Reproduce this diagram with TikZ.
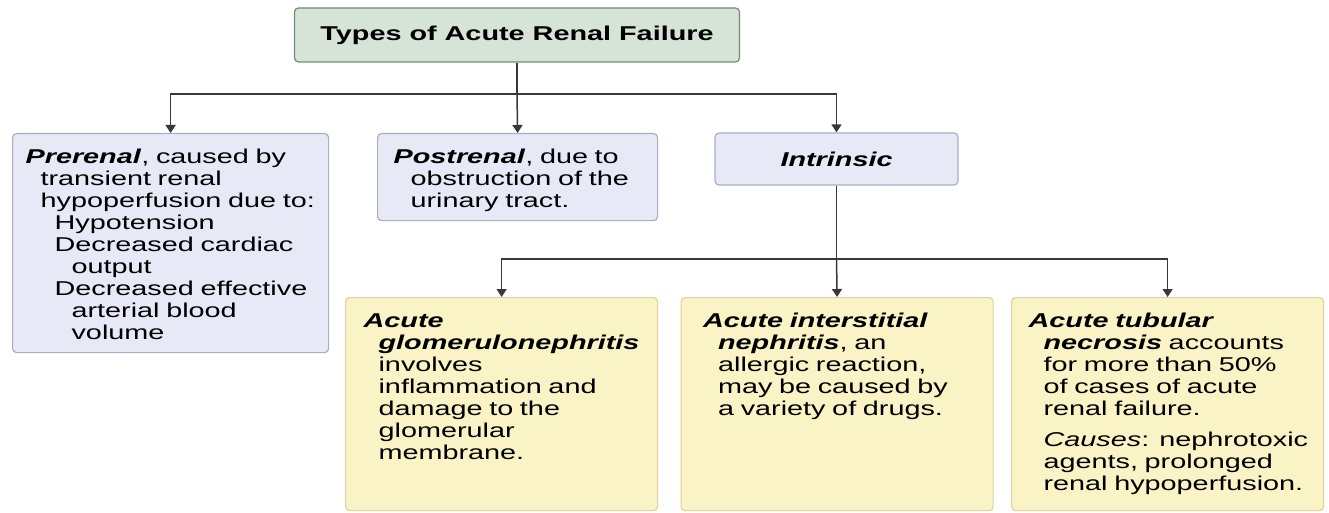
\documentclass[tikz,border=0pt]{standalone}
\usepackage{fontspec}
\setmainfont{Liberation Sans}[FakeStretch=1.44]
\usetikzlibrary{arrows.meta}

\definecolor{headfill}{HTML}{D6E4D8}
\definecolor{headline}{HTML}{6F8C76}
\definecolor{bluefill}{HTML}{E7EAF6}
\definecolor{blueline}{HTML}{A9AEC2}
\definecolor{yelfill}{HTML}{FAF3C6}
\definecolor{yelline}{HTML}{DDD49B}
\definecolor{wirecol}{HTML}{383838}

\newcommand{\indt}[1]{\hspace*{#1pt}}
\newcommand{\term}[1]{\textbf{\textit{#1}}}

\tikzset{
	head/.style={draw=headline, fill=headfill, rounded corners=4pt, line width=1.2pt,
		minimum width=445pt, minimum height=54pt, font=\fontsize{20pt}{22pt}\selectfont\bfseries},
	typebox/.style={draw=blueline, fill=bluefill, rounded corners=4pt, line width=1.2pt,
		inner sep=0pt, align=left, anchor=north west, text height=30pt},
	kindbox/.style={draw=yelline, fill=yelfill, rounded corners=4pt, line width=1.2pt,
		inner sep=0pt, align=left, anchor=north west, text height=30pt,
		text width=312pt, text depth=183pt},
	wire/.style={draw=wirecol, line width=1.5pt},
	link/.style={wire, -{Triangle[width=10pt,length=8pt]}}
}

\begin{document}
\begin{tikzpicture}[x=1pt, y=-1pt, font=\fontsize{20pt}{22pt}\selectfont]
	\useasboundingbox (0,0) rectangle (1329,513);

	\node[head] (title) at (517,35) {Types of Acute Renal Failure};

	\node[typebox, text width=316pt, text depth=189pt] (pre) at (12,133) {%
		\indt{13}\term{Prerenal}, caused by\\
		\indt{28}transient renal\\
		\indt{28}hypoperfusion due to:\\
		\indt{42}Hypotension\\
		\indt{42}Decreased cardiac\\
		\indt{59}output\\
		\indt{42}Decreased effective\\
		\indt{59}arterial blood\\
		\indt{59}volume};
	\node[typebox, text width=280pt, text depth=57pt] (post) at (377,133) {%
		\indt{16}\term{Postrenal}, due to\\
		\indt{33}obstruction of the\\
		\indt{33}urinary tract.};
	\node[draw=blueline, fill=bluefill, rounded corners=4pt, line width=1.2pt,
		minimum width=243pt, minimum height=52pt] (intr) at (836.5,159) {\term{Intrinsic}};

	\node[kindbox] (glom) at (345,297) {%
		\indt{18}\term{Acute}\\
		\indt{33}\term{glomerulonephritis}\\
		\indt{33}involves\\
		\indt{33}inflammation and\\
		\indt{33}damage to the\\
		\indt{33}glomerular\\
		\indt{33}membrane.};
	\node[kindbox] (inter) at (680.5,297) {%
		\indt{22}\term{Acute interstitial}\\
		\indt{37}\term{nephritis}, an\\
		\indt{37}allergic reaction,\\
		\indt{37}may be caused by\\
		\indt{37}a variety of drugs.};
	\node[kindbox] (tub) at (1011,297) {%
		\indt{17}\term{Acute tubular}\\
		\indt{32}\term{necrosis} accounts\\
		\indt{32}for more than 50\%\\
		\indt{32}of cases of acute\\
		\indt{32}renal failure.\\[9pt]
		\indt{32}\textit{Causes}: nephrotoxic\\
		\indt{32}agents, prolonged\\
		\indt{32}renal hypoperfusion.};

	\coordinate (top bus) at (517,94);
	\coordinate (low bus) at (836.5,259);

	\draw[wire] (title.south) -- (top bus);
	\draw[link] (top bus) -| (pre.north);
	\draw[link] (top bus) -- (post.north);
	\draw[link] (top bus) -| (intr.north);

	\draw[wire] (intr.south) -- (low bus);
	\draw[link] (low bus) -| (glom.north);
	\draw[link] (low bus) -- (inter.north);
	\draw[link] (low bus) -| (tub.north);
\end{tikzpicture}
\end{document}
